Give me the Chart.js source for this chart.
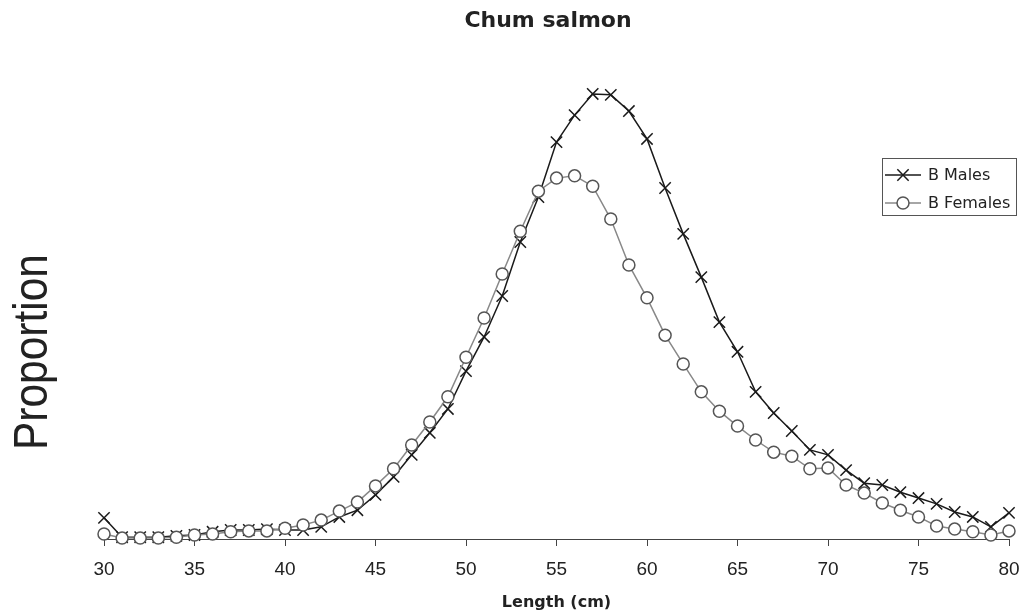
<!DOCTYPE html>
<html>
<head>
<meta charset="utf-8">
<script src="https://cdn.jsdelivr.net/npm/chart.js@4/dist/chart.umd.min.js"></script>
<style>
  html, body { margin: 0; padding: 0; background: #fff; }
  #wrap { width: 1024px; height: 616px; position: relative; }
</style>
</head>
<body>
<div id="wrap"><canvas id="chart"></canvas></div>
<script>
// longitudes (cm) y proporciones
const lengths = [30,31,32,33,34,35,36,37,38,39,40,41,42,43,44,45,46,47,48,49,50,
  51,52,53,54,55,56,57,58,59,60,61,62,63,64,65,66,67,68,69,70,
  71,72,73,74,75,76,77,78,79,80];

const males = [0.0047,0.0004,0.0004,0.0004,0.0007,0.0009,0.0016,0.0020,0.0020,0.0022,0.0020,
  0.0020,0.0027,0.0049,0.0064,0.0098,0.0138,0.0187,0.0236,0.0289,0.0373,
  0.0449,0.0540,0.0660,0.0760,0.0882,0.0942,0.0989,0.0987,0.0951,0.0889,
  0.0780,0.0678,0.0582,0.0482,0.0416,0.0327,0.0280,0.0240,0.0198,0.0187,
  0.0153,0.0124,0.0120,0.0104,0.0091,0.0078,0.0060,0.0049,0.0027,0.0058];

const females = [0.0011,0.0002,0.0002,0.0002,0.0004,0.0009,0.0011,0.0016,0.0018,0.0018,0.0024,
  0.0031,0.0042,0.0062,0.0082,0.0118,0.0156,0.0209,0.0260,0.0316,0.0404,
  0.0491,0.0589,0.0684,0.0773,0.0802,0.0807,0.0784,0.0711,0.0609,0.0536,
  0.0453,0.0389,0.0327,0.0284,0.0251,0.0220,0.0193,0.0184,0.0156,0.0158,
  0.0120,0.0102,0.0080,0.0064,0.0049,0.0029,0.0022,0.0016,0.0009,0.0018];

const xTicks = [30,35,40,45,50,55,60,65,70,75,80];
const seriesNames = ['B Males', 'B Females'];
const chartTitle = 'Chum salmon';

const toPoints = (vals) => lengths.map((x, i) => ({ x: x, y: vals[i] }));

// titulo, etiqueta vertical "Proportion" y leyenda con recuadro
const extrasPlugin = {
  id: 'extras',
  afterDraw(chart) {
    const ctx = chart.ctx;

    ctx.save();
    ctx.fillStyle = '#222';
    ctx.font = 'bold 22px "DejaVu Sans"';
    ctx.textAlign = 'center';
    ctx.textBaseline = 'middle';
    ctx.fillText(chartTitle, 548, 21);
    ctx.restore();

    // Proportion
    ctx.save();
    ctx.translate(34, 352);
    ctx.rotate(-Math.PI / 2);
    ctx.font = '48px "Liberation Sans"';
    const w = ctx.measureText('Proportion').width;
    ctx.scale(196 / w, 1);
    ctx.fillStyle = '#222';
    ctx.textAlign = 'center';
    ctx.textBaseline = 'middle';
    ctx.fillText('Proportion', 0, 0);
    ctx.restore();

    // leyenda
    ctx.save();
    ctx.strokeStyle = '#555';
    ctx.lineWidth = 1;
    ctx.strokeRect(882.5, 158.5, 134, 57);
    const rows = [175, 203];
    chart.data.datasets.forEach((ds, i) => {
      const y = rows[i];
      ctx.strokeStyle = ds.borderColor;
      ctx.lineWidth = ds.borderWidth;
      ctx.beginPath();
      ctx.moveTo(885, y);
      ctx.lineTo(921, y);
      ctx.stroke();
      ctx.fillStyle = ds.pointBackgroundColor;
      ctx.strokeStyle = ds.pointBorderColor;
      ctx.lineWidth = ds.pointBorderWidth;
      ctx.beginPath();
      if (ds.pointStyle === 'circle') {
        ctx.arc(903, y, ds.pointRadius, 0, Math.PI * 2);
        ctx.fill();
      } else {
        const d = ds.pointRadius * Math.SQRT1_2;
        ctx.moveTo(903 - d, y - d); ctx.lineTo(903 + d, y + d);
        ctx.moveTo(903 - d, y + d); ctx.lineTo(903 + d, y - d);
      }
      ctx.stroke();
      ctx.fillStyle = '#222';
      ctx.font = '16px "DejaVu Sans"';
      ctx.textAlign = 'left';
      ctx.textBaseline = 'middle';
      ctx.fillText(seriesNames[i], 928, y + 1);
    });
    ctx.restore();
  }
};

const ctx = document.getElementById('chart').getContext('2d');
new Chart(ctx, {
  type: 'line',
  data: {
    datasets: [{
      label: seriesNames[0],
      data: toPoints(males),
      borderColor: '#1a1a1a',
      borderWidth: 1.5,
      pointStyle: 'crossRot',
      pointRadius: 8,
      pointBorderWidth: 1.5,
      pointBorderColor: '#1a1a1a',
      pointBackgroundColor: '#1a1a1a',
      tension: 0,
      clip: false,
      order: 1
    }, {
      label: seriesNames[1],
      data: toPoints(females),
      borderColor: '#888',
      borderWidth: 1.5,
      pointStyle: 'circle',
      pointRadius: 6,
      pointBorderWidth: 1.5,
      pointBorderColor: '#555',
      pointBackgroundColor: '#fff',
      tension: 0,
      clip: false,
      order: 0
    }]
  },
  options: {
    responsive: true,
    maintainAspectRatio: false,
    animation: false,
    layout: { padding: { left: 104, right: 15, top: 66.5, bottom: 0 } },
    scales: {
      x: {
        type: 'linear',
        min: 30,
        max: 80,
        afterBuildTicks: (axis) => { axis.ticks = xTicks.map(v => ({ value: v })); },
        afterFit: (axis) => { axis.paddingLeft = 0; axis.paddingRight = 0; },
        border: { display: true, color: '#444', width: 1 },
        grid: { display: true, drawOnChartArea: false, drawTicks: true, tickLength: 7, color: '#444' },
        ticks: {
          padding: 12,
          color: '#222',
          font: { family: '"Liberation Sans"', size: 19 },
          maxRotation: 0
        },
        title: {
          display: true,
          text: 'Length (cm)',
          color: '#222',
          font: { family: '"DejaVu Sans"', size: 16, weight: 'bold' },
          padding: { top: 0, bottom: 4 }
        }
      },
      y: {
        display: false,
        min: 0,
        max: 0.105
      }
    },
    plugins: {
      legend: { display: false },
      tooltip: { enabled: false },
      title: { display: false }
    }
  },
  plugins: [extrasPlugin]
});
</script>
</body>
</html>
